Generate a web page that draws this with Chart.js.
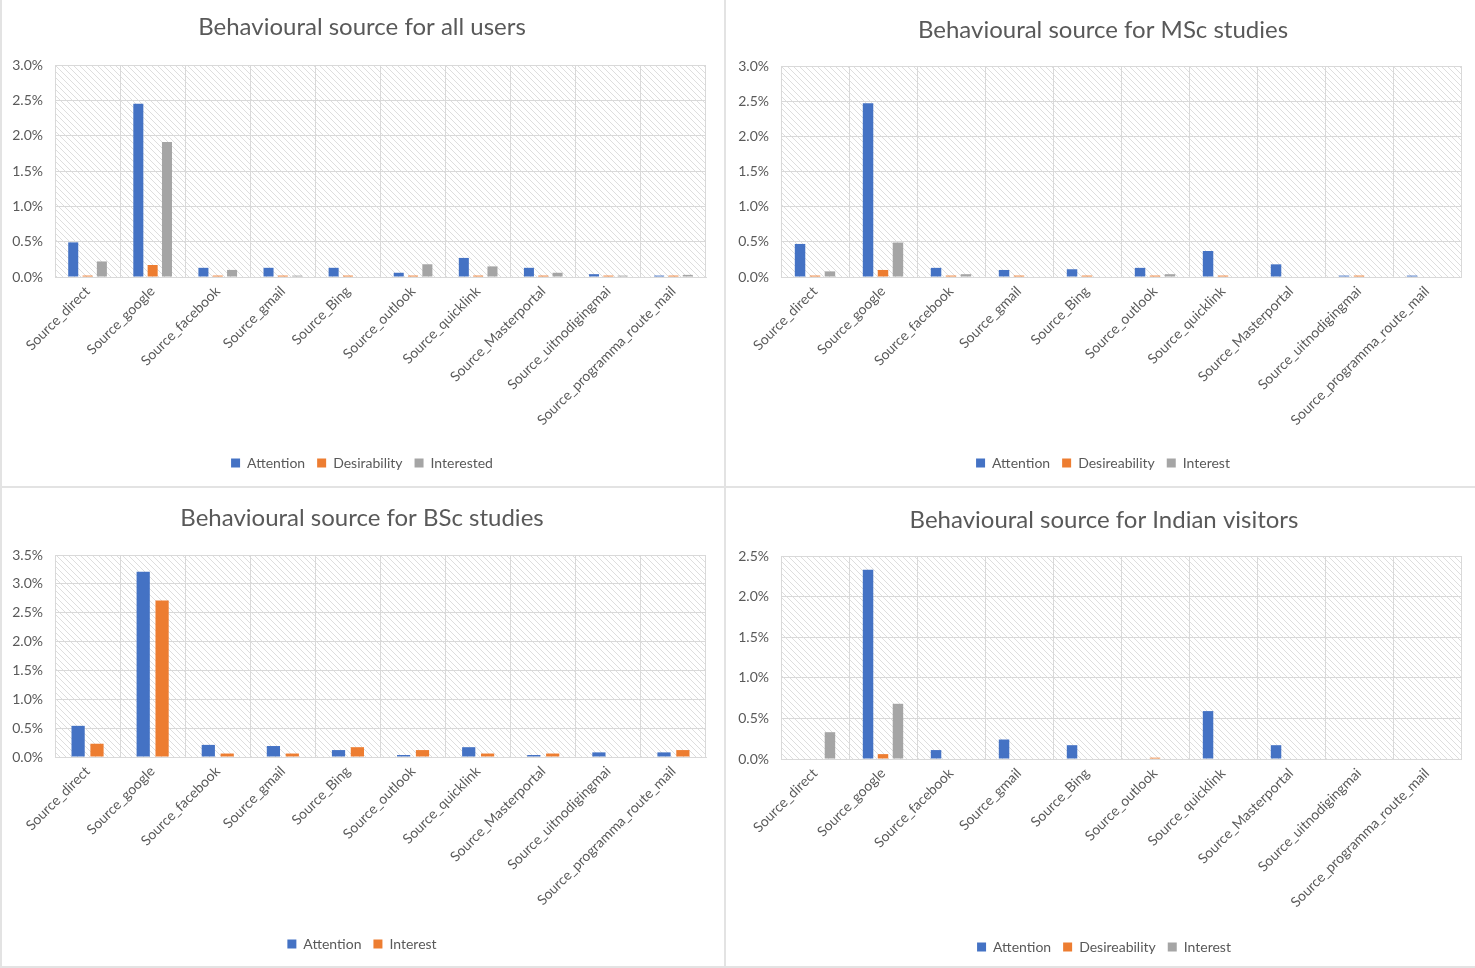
<!DOCTYPE html>
<html>
<head>
<meta charset="utf-8">
<script src="https://cdn.jsdelivr.net/npm/chart.js@4.4.1/dist/chart.umd.min.js"></script>
<style>
  html, body { margin: 0; padding: 0; background: #ffffff; }
  body { width: 1475px; height: 968px; position: relative; overflow: hidden; }
  .panel { position: absolute; }
  .line { position: absolute; background: #e3e3e3; }
</style>
</head>
<body>
<div class="line" style="left:0;top:0;width:2px;height:968px;"></div>
<div class="line" style="left:724px;top:0;width:2px;height:968px;"></div>
<div class="line" style="left:0;top:486px;width:1475px;height:2px;"></div>
<div class="line" style="left:0;top:966px;width:1475px;height:2px;"></div>

<div class="panel" id="p1"><canvas id="c1"></canvas></div>
<div class="panel" id="p2"><canvas id="c2"></canvas></div>
<div class="panel" id="p3"><canvas id="c3"></canvas></div>
<div class="panel" id="p4"><canvas id="c4"></canvas></div>

<script>
// ---- data ----
const categories = ['Source_direct', 'Source_google', 'Source_facebook', 'Source_gmail', 'Source_Bing',
  'Source_outlook', 'Source_quicklink', 'Source_Masterportal', 'Source_uitnodigingmai', 'Source_programma_route_mail'];

// all users (%)
const allAttention     = [0.49, 2.45, 0.13, 0.13, 0.13, 0.06, 0.27, 0.13, 0.04, 0.02];
const allDesirability  = [0.02, 0.17, 0.02, 0.02, 0.02, 0.02, 0.02, 0.02, 0.02, 0.02];
const allInterested    = [0.22, 1.91, 0.10, 0.02, 0.00, 0.18, 0.15, 0.06, 0.02, 0.03];

// MSc studies (%)
const mscAttention     = [0.47, 2.47, 0.13, 0.10, 0.11, 0.13, 0.37, 0.18, 0.02, 0.02];
const mscDesireability = [0.02, 0.10, 0.02, 0.02, 0.02, 0.02, 0.02, 0.00, 0.02, 0.00];
const mscInterest      = [0.08, 0.49, 0.04, 0.00, 0.00, 0.04, 0.00, 0.00, 0.00, 0.00];

// BSc studies (%)
const bscAttention     = [0.54, 3.21, 0.21, 0.19, 0.12, 0.035, 0.17, 0.035, 0.08, 0.08];
const bscInterest      = [0.23, 2.71, 0.06, 0.06, 0.17, 0.12, 0.06, 0.06, 0.00, 0.12];

// Indian visitors (%)
const indAttention     = [0.00, 2.33, 0.11, 0.24, 0.17, 0.00, 0.59, 0.17, 0.00, 0.00];
const indDesireability = [0.00, 0.06, 0.00, 0.00, 0.00, 0.016, 0.00, 0.00, 0.00, 0.00];
const indInterest      = [0.33, 0.68, 0.00, 0.00, 0.00, 0.00, 0.00, 0.00, 0.00, 0.00];

const yMaxes = [3.0, 3.0, 3.5, 2.5];
const titles = ['Behavioural source for all users', 'Behavioural source for MSc studies',
  'Behavioural source for BSc studies', 'Behavioural source for Indian visitors'];

// ---- styles ----
const BLUE = '#4472C4', ORANGE = '#ED7D31', GRAY = '#A5A5A5';
const TEXT = '#595959';
const GRID = '#d9d9d9';
const FONT = "Lato, 'Open Sans', sans-serif";

function makePattern() {
  const s = 6;
  const c = document.createElement('canvas');
  c.width = s; c.height = s;
  const g = c.getContext('2d');
  g.fillStyle = '#ffffff';
  g.fillRect(0, 0, s, s);
  g.strokeStyle = 'rgba(200,200,200,0.6)';
  g.lineWidth = 1;
  g.beginPath();
  g.moveTo(-1, -1); g.lineTo(s + 1, s + 1);
  g.moveTo(-1, s - 1); g.lineTo(1, s + 1);
  g.moveTo(s - 1, -1); g.lineTo(s + 1, 1);
  g.stroke();
  return c;
}
const patternCanvas = makePattern();

const hatchPlugin = {
  id: 'hatch',
  beforeDraw(chart) {
    const {ctx, chartArea: a} = chart;
    ctx.save();
    ctx.fillStyle = ctx.createPattern(patternCanvas, 'repeat');
    ctx.fillRect(a.left, a.top, a.right - a.left, a.bottom - a.top);
    ctx.restore();
  }
};

// layout targets per panel (canvas left/top/height, plot box, title/legend centres)
const panels = [
  {id: 'p1', canvas: 'c1', L: 2, T: 0, H: 486, pl: 55, pt: 65, pr: 706, pb: 277, tcx: 362, tcy: 27, lcy: 463,
   datasets: [['Attention', allAttention, BLUE], ['Desirability', allDesirability, ORANGE], ['Interested', allInterested, GRAY]]},
  {id: 'p2', canvas: 'c2', L: 727, T: 0, H: 486, pl: 781, pt: 66, pr: 1461, pb: 277, tcx: 1103, tcy: 30, lcy: 463,
   datasets: [['Attention', mscAttention, BLUE], ['Desireability', mscDesireability, ORANGE], ['Interest', mscInterest, GRAY]]},
  {id: 'p3', canvas: 'c3', L: 2, T: 489, H: 477, pl: 55, pt: 555, pr: 706, pb: 757, tcx: 362, tcy: 518, lcy: 944,
   datasets: [['Attention', bscAttention, BLUE], ['Interest', bscInterest, ORANGE]]},
  {id: 'p4', canvas: 'c4', L: 727, T: 489, H: 477, pl: 781, pt: 556, pr: 1461, pb: 759, tcx: 1104, tcy: 520, lcy: 947,
   datasets: [['Attention', indAttention, BLUE], ['Desireability', indDesireability, ORANGE], ['Interest', indInterest, GRAY]]}
];

const TITLE_SIZE = 24, LEG_SIZE = 14, LEG_PAD = 12, TICK_SIZE = 14;

panels.forEach((p, i) => {
  const W = 2 * p.tcx - 2 * p.L;   // canvas centred on the title centre
  const div = document.getElementById(p.id);
  div.style.left = p.L + 'px'; div.style.top = p.T + 'px';
  div.style.width = W + 'px'; div.style.height = p.H + 'px';
  const cv = document.getElementById(p.canvas);
  cv.width = W; cv.height = p.H;
  cv.style.width = W + 'px'; cv.style.height = p.H + 'px';

  const bottom = p.T + p.H;
  const rightW = (p.L + W) - p.pr;
  const padBottom = bottom - p.lcy - 10 - LEG_SIZE / 2;
  const legendH = LEG_SIZE + LEG_PAD + 10;
  const xAxisH = (bottom - padBottom - legendH) - p.pb;
  const yAxisW = p.pl - p.L;
  const tPadTop = p.tcy - p.T - TITLE_SIZE * 0.6;
  const tPadBottom = p.pt - p.T - tPadTop - TITLE_SIZE * 1.2;
  const nSets = p.datasets.length;

  new Chart(cv, {
    type: 'bar',
    data: {
      labels: categories,
      datasets: p.datasets.map(d => ({
        label: d[0], data: d[1], backgroundColor: d[2], borderWidth: 0,
        categoryPercentage: nSets === 3 ? 0.66 : 0.58,
        barPercentage: 0.7
      }))
    },
    options: {
      responsive: false,
      animation: false,
      devicePixelRatio: 1,
      layout: { padding: { left: 0, top: 0, right: 0, bottom: padBottom } },
      plugins: {
        title: {
          display: true, text: titles[i], color: TEXT,
          font: { family: FONT, size: TITLE_SIZE, weight: 'normal' },
          padding: { top: tPadTop, bottom: tPadBottom }
        },
        legend: {
          position: 'bottom',
          labels: {
            boxWidth: 9, boxHeight: 9, padding: LEG_PAD, color: TEXT,
            font: { family: FONT, size: LEG_SIZE }
          }
        },
        tooltip: { enabled: false }
      },
      scales: {
        x: {
          grid: { color: GRID, lineWidth: 1, drawTicks: false, offset: true },
          border: { color: GRID },
          ticks: {
            color: TEXT, font: { family: FONT, size: TICK_SIZE },
            maxRotation: 45, minRotation: 45, autoSkip: false, padding: 6
          },
          afterFit(scale) { scale.height = xAxisH; }
        },
        y: {
          min: 0, max: yMaxes[i],
          grid: { color: GRID, lineWidth: 1, drawTicks: false },
          border: { color: GRID },
          ticks: {
            stepSize: 0.5, color: TEXT, padding: 12,
            font: { family: FONT, size: TICK_SIZE },
            callback: v => v.toFixed(1) + '%'
          },
          afterFit(scale) { scale.width = yAxisW; }
        },
        spacer: {
          type: 'linear', position: 'right', display: true,
          grid: { display: false, drawTicks: false },
          border: { display: false },
          ticks: { display: false },
          afterFit(scale) { scale.width = rightW; }
        }
      }
    },
    plugins: [hatchPlugin]
  });
});
</script>
</body>
</html>
